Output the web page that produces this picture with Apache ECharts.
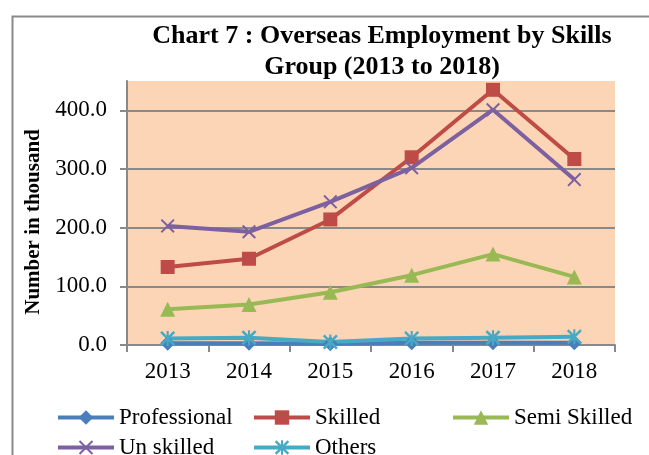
<!DOCTYPE html>
<html>
<head>
<meta charset="utf-8">
<script src="https://cdn.jsdelivr.net/npm/echarts@6/dist/echarts.min.js"></script>
<style>
  html, body { margin: 0; padding: 0; background: #fff; }
  #chart { width: 649px; height: 455px; }
</style>
</head>
<body>
<div id="chart"></div>
<script>
// years and values (thousand persons)
var years = ['2013', '2014', '2015', '2016', '2017', '2018'];
var professional = [3, 3, 2, 4, 4, 4];
var skilled = [133, 147, 214, 320, 435, 317];
var semiSkilled = [61, 69, 90, 119, 155, 116];
var unSkilled = [203, 193, 244, 302, 401, 282];
var others = [11, 12.5, 5, 11, 12.5, 14];
var yTicks = [0, 100, 200, 300, 400];

var serif = '"Liberation Serif", "DejaVu Serif", serif';
var gray = '#898989';

// marker shapes for Excel style x and asterisk
var crossPath = 'path://M0,1L1,0L5,4L9,0L10,1L6,5L10,9L9,10L5,6L1,10L0,9L4,5Z';
var starPath = 'path://M0,1.2L1.2,0L5,3.8L8.8,0L10,1.2L6.2,5L10,8.8L8.8,10L5,6.2L1.2,10L0,8.8L3.8,5Z M4.3,0L5.7,0L5.7,10L4.3,10Z';

function makeSeries(name, data, color, symbol, size) {
	return {
		name: name,
		type: 'line',
		data: data,
		symbol: symbol,
		symbolSize: size,
		showAllSymbol: true,
		lineStyle: { color: color, width: 4 },
		itemStyle: { color: color },
		emphasis: { disabled: true },
		animation: false
	};
}

function makeLegend(name, left, top) {
	return {
		data: [name],
		left: left,
		top: top,
		padding: 0,
		itemWidth: 56,
		itemHeight: 18,
		itemGap: 4,
		lineStyle: { width: 4 },
		textStyle: { fontFamily: serif, fontSize: 23, color: '#000' }
	};
}

var myChart = echarts.init(document.getElementById('chart'));
myChart.setOption({
	backgroundColor: '#fff',
	title: {
		text: 'Chart 7 : Overseas Employment by Skills\nGroup (2013 to 2018)',
		left: 377,
		top: 16,
		textAlign: 'center',
		textStyle: {
			fontFamily: serif,
			fontSize: 26,
			fontWeight: 'bold',
			color: '#000',
			lineHeight: 31
		}
	},
	graphic: [{
		type: 'rect',
		left: 10,
		top: 14,
		shape: { width: 700, height: 500 },
		style: { fill: 'none', stroke: gray, lineWidth: 2 },
		silent: true
	}],
	legend: [
		makeLegend('Professional', 56, 406),
		makeLegend('Skilled', 252, 406),
		makeLegend('Semi Skilled', 451, 406),
		makeLegend('Un skilled', 56, 436),
		makeLegend('Others', 252, 436)
	],
	grid: {
		left: 127,
		right: 34,
		top: 81,
		bottom: 110,
		show: true,
		backgroundColor: '#FBD5B5',
		borderWidth: 0
	},
	xAxis: {
		type: 'category',
		data: years,
		boundaryGap: true,
		axisLine: { lineStyle: { color: gray, width: 2 } },
		axisTick: { show: true, length: 7, lineStyle: { color: gray, width: 2 } },
		axisLabel: { fontFamily: serif, fontSize: 23, color: '#000', margin: 15 }
	},
	yAxis: {
		type: 'value',
		min: 0,
		max: 450,
		interval: 100,
		name: 'Number in thousand',
		nameLocation: 'middle',
		nameGap: 80,
		nameTextStyle: {
			fontFamily: serif, fontSize: 21, fontWeight: 'bold', color: '#000',
			padding: [0, 18, 0, 0]
		},
		axisLine: { show: true, lineStyle: { color: gray, width: 2 } },
		axisTick: { show: true, length: 7, customValues: yTicks, lineStyle: { color: gray, width: 2 } },
		axisLabel: {
			fontFamily: serif, fontSize: 23, color: '#000', margin: 20,
			customValues: yTicks,
			formatter: function (v) { return v.toFixed(1); }
		},
		splitLine: {
			show: true,
			lineStyle: { color: [gray, gray, gray, gray, gray, 'rgba(0,0,0,0)'], width: 2 }
		}
	},
	series: [
		makeSeries('Professional', professional, '#4A7EBB', 'diamond', 15),
		makeSeries('Skilled', skilled, '#BE4B48', 'rect', 14),
		makeSeries('Semi Skilled', semiSkilled, '#98B954', 'triangle', 15),
		makeSeries('Un skilled', unSkilled, '#7D60A0', crossPath, 14),
		makeSeries('Others', others, '#46AAC5', starPath, 15)
	]
});
</script>
</body>
</html>
